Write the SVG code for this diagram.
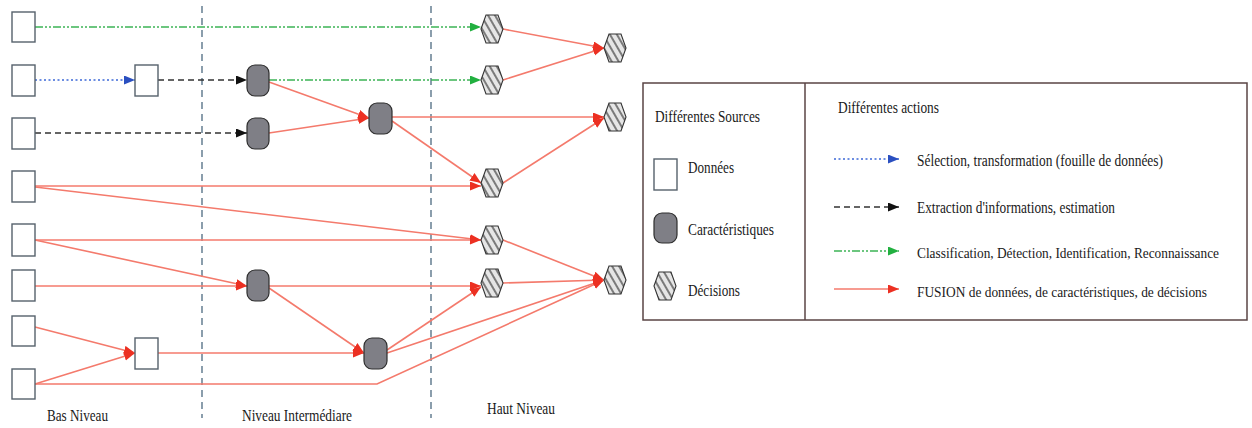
<svg xmlns="http://www.w3.org/2000/svg" width="1252" height="428" viewBox="0 0 1252 428">
<style>
text{font-family:"Liberation Serif","Times New Roman",serif;font-size:16px;fill:#1a1a1a}
.small{font-size:14.5px}
.data{fill:#fff;stroke:#56616c;stroke-width:1.4}
.feat{fill:#7f7f86;stroke:#2e2e2e;stroke-width:1.2}
.dec{fill:url(#hatch);stroke:#333;stroke-width:1.1}
.sep{stroke:#4d6a80;stroke-width:1.3;stroke-dasharray:7 5;fill:none}
.red{stroke:#f47a6c;stroke-width:1.6;fill:none;marker-end:url(#aRed)}
.green{stroke:#3cb455;stroke-width:1.3;fill:none;stroke-dasharray:8 2 2 2 2 2;marker-end:url(#aGreen)}
.blue{stroke:#3c68d8;stroke-width:1.3;fill:none;stroke-dasharray:2 2.5;marker-end:url(#aBlue)}
.black{stroke:#333;stroke-width:1.3;fill:none;stroke-dasharray:6 4;marker-end:url(#aBlack)}
</style>
<defs>
<pattern id="hatch" width="6" height="12" patternUnits="userSpaceOnUse" patternTransform="rotate(-30)">
<rect width="6" height="12" fill="#e6e6e6"/>
<line x1="1" y1="0" x2="1" y2="12" stroke="#333" stroke-width="1.2"/>
</pattern>
<marker id="aRed" markerUnits="userSpaceOnUse" markerWidth="12" markerHeight="10" refX="11" refY="4.5" orient="auto"><path d="M0,0 L11,4.5 L0,9 z" fill="#ec3022"/></marker>
<marker id="aGreen" markerUnits="userSpaceOnUse" markerWidth="12" markerHeight="10" refX="11" refY="4.5" orient="auto"><path d="M0,0 L11,4.5 L0,9 z" fill="#22b040"/></marker>
<marker id="aBlue" markerUnits="userSpaceOnUse" markerWidth="12" markerHeight="10" refX="11" refY="4.5" orient="auto"><path d="M0,0 L11,4.5 L0,9 z" fill="#2a4fc0"/></marker>
<marker id="aBlack" markerUnits="userSpaceOnUse" markerWidth="12" markerHeight="10" refX="11" refY="4.5" orient="auto"><path d="M0,0 L11,4.5 L0,9 z" fill="#111"/></marker>
</defs>
<rect width="1252" height="428" fill="#fff"/>

<g id="separators">
<line class="sep" x1="202" y1="6" x2="202" y2="418"/>
<line class="sep" x1="431" y1="6" x2="431" y2="418"/>
</g>

<g id="connectors">
<line class="green" x1="35" y1="27" x2="481" y2="27"/>
<line class="green" x1="269" y1="80" x2="481" y2="80"/>
<line class="blue" x1="35" y1="80" x2="135" y2="80"/>
<line class="black" x1="158" y1="80" x2="247" y2="80"/>
<line class="black" x1="35" y1="133" x2="247" y2="133"/>
<line class="red" x1="503" y1="29" x2="604" y2="48"/>
<line class="red" x1="503" y1="80" x2="604" y2="48"/>
<line class="red" x1="269" y1="82" x2="369" y2="118"/>
<line class="red" x1="269" y1="133" x2="369" y2="118"/>
<line class="red" x1="392" y1="117" x2="604" y2="117"/>
<line class="red" x1="392" y1="121" x2="481" y2="183"/>
<line class="red" x1="503" y1="183" x2="604" y2="118"/>
<line class="red" x1="35" y1="186" x2="481" y2="186"/>
<line class="red" x1="35" y1="187" x2="481" y2="240"/>
<line class="red" x1="35" y1="240" x2="481" y2="240"/>
<line class="red" x1="35" y1="240" x2="247" y2="286"/>
<line class="red" x1="35" y1="286" x2="247" y2="286"/>
<line class="red" x1="269" y1="286" x2="481" y2="286"/>
<line class="red" x1="269" y1="288" x2="364" y2="353"/>
<line class="red" x1="35" y1="327" x2="135" y2="353"/>
<line class="red" x1="35" y1="384" x2="135" y2="353"/>
<line class="red" x1="158" y1="353" x2="364" y2="353"/>
<line class="red" x1="387" y1="350" x2="481" y2="287"/>
<line class="red" x1="387" y1="353" x2="604" y2="280"/>
<polyline class="red" points="35,384 377,384 604,280"/>
<line class="red" x1="503" y1="240" x2="604" y2="280"/>
<line class="red" x1="503" y1="283" x2="604" y2="280"/>
</g>

<g id="D1"><rect class="data" x="12" y="12" width="23" height="30"/></g>
<g id="D2"><rect class="data" x="12" y="65" width="23" height="31"/></g>
<g id="D3"><rect class="data" x="12" y="118" width="23" height="31"/></g>
<g id="D4"><rect class="data" x="12" y="171" width="23" height="31"/></g>
<g id="D5"><rect class="data" x="12" y="224" width="23" height="32"/></g>
<g id="D6"><rect class="data" x="12" y="270" width="23" height="31"/></g>
<g id="D7"><rect class="data" x="12" y="316" width="23" height="30"/></g>
<g id="D8"><rect class="data" x="12" y="369" width="23" height="30"/></g>
<g id="M1"><rect class="data" x="135" y="65" width="23" height="31"/></g>
<g id="M2"><rect class="data" x="135" y="338" width="23" height="31"/></g>

<g id="F1"><rect class="feat" x="247" y="65" width="22" height="31" rx="8"/></g>
<g id="F2"><rect class="feat" x="247" y="118" width="22" height="31" rx="8"/></g>
<g id="F3"><rect class="feat" x="369" y="103" width="23" height="31" rx="8"/></g>
<g id="F4"><rect class="feat" x="247" y="270" width="22" height="31" rx="8"/></g>
<g id="F5"><rect class="feat" x="364" y="338" width="23" height="31" rx="8"/></g>

<g id="H1"><polygon class="dec" points="481,29 486,15 498,15 503,29 498,43 486,43"/></g>
<g id="H2"><polygon class="dec" points="481,80 486,66 498,66 503,80 498,94 486,94"/></g>
<g id="H3"><polygon class="dec" points="481,183 486,169 498,169 503,183 498,197 486,197"/></g>
<g id="H4"><polygon class="dec" points="481,240 486,226 498,226 503,240 498,254 486,254"/></g>
<g id="H5"><polygon class="dec" points="481,283 486,269 498,269 503,283 498,297 486,297"/></g>
<g id="R1"><polygon class="dec" points="604,48 609,34 621,34 626,48 621,62 609,62"/></g>
<g id="R2"><polygon class="dec" points="604,117 609,103 621,103 626,117 621,131 609,131"/></g>
<g id="R3"><polygon class="dec" points="604,280 609,266 621,266 626,280 621,294 609,294"/></g>

<g id="labels">
<text x="47" y="421" textLength="61" lengthAdjust="spacingAndGlyphs">Bas Niveau</text>
<text x="242" y="421" textLength="110" lengthAdjust="spacingAndGlyphs">Niveau Intermédiare</text>
<text x="487" y="414" textLength="68" lengthAdjust="spacingAndGlyphs">Haut Niveau</text>
</g>

<g id="legend">
<rect x="643" y="83" width="604" height="237" fill="none" stroke="#5a4444" stroke-width="1.5"/>
<line x1="805" y1="83" x2="805" y2="320" stroke="#5a4444" stroke-width="1.5"/>
<text x="655" y="122" textLength="105" lengthAdjust="spacingAndGlyphs">Différentes Sources</text>
<rect class="data" x="654" y="159" width="23" height="31"/>
<text x="688" y="173" textLength="46" lengthAdjust="spacingAndGlyphs">Données</text>
<rect class="feat" x="654" y="213" width="23" height="30" rx="8"/>
<text x="688" y="235" textLength="86" lengthAdjust="spacingAndGlyphs">Caractéristiques</text>
<polygon class="dec" points="654,286 659,272 671,272 676,286 671,300 659,300"/>
<text x="688" y="296" textLength="52" lengthAdjust="spacingAndGlyphs">Décisions</text>
<text x="838" y="113" textLength="101" lengthAdjust="spacingAndGlyphs">Différentes actions</text>
<line class="blue" x1="834" y1="159" x2="899" y2="159"/>
<text x="917" y="166" textLength="246" lengthAdjust="spacingAndGlyphs">Sélection, transformation (fouille de données)</text>
<line class="black" x1="834" y1="207" x2="899" y2="207"/>
<text x="917" y="213" textLength="198" lengthAdjust="spacingAndGlyphs">Extraction d'informations, estimation</text>
<line class="green" x1="834" y1="251" x2="899" y2="251"/>
<text class="small" x="917" y="258" textLength="302" lengthAdjust="spacingAndGlyphs">Classification, Détection, Identification, Reconnaissance</text>
<line class="red" x1="834" y1="289" x2="899" y2="289"/>
<text class="small" x="917" y="297" textLength="290" lengthAdjust="spacingAndGlyphs">FUSION de données, de caractéristiques, de décisions</text>
</g>
</svg>
